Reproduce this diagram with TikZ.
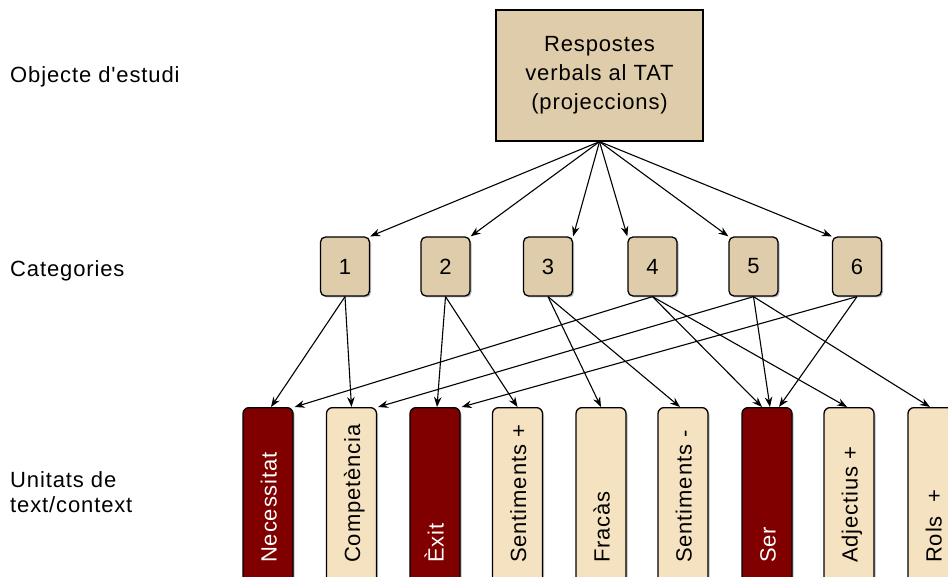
\documentclass[tikz,border=0pt]{standalone}
\usepackage{fontspec}
\setmainfont{Liberation Sans}[LetterSpace=4, Ligatures=TeXOff]
\usetikzlibrary{arrows.meta,shadows}
\definecolor{boxtan}{HTML}{DECCAA}
\definecolor{boxcream}{HTML}{F5E2C1}
\definecolor{boxred}{HTML}{800000}
\begin{document}
\begin{tikzpicture}[x=1pt,y=-1pt,
  font=\fontsize{22}{29}\selectfont,
  topbox/.style={draw, line width=1.3pt, fill=boxtan, minimum width=207pt, minimum height=131pt, align=center, inner sep=0pt},
  shad/.style={drop shadow={shadow xshift=1.5pt, shadow yshift=-1.5pt, fill=black!45, opacity=0.6}},
  catbox/.style={draw, line width=1.3pt, fill=boxtan, rounded corners=5pt, minimum width=49pt, minimum height=59pt, inner sep=0pt, shad},
  unitbox/.style={draw, line width=1.3pt, rounded corners=6pt, minimum width=50pt, minimum height=200pt, inner sep=0pt, anchor=north, shad},
  lightbox/.style={unitbox, fill=boxcream},
  darkbox/.style={unitbox, fill=boxred},
  utext/.style={rotate=90, anchor=base west, inner sep=0pt},
  ltext/.style={anchor=base west, inner sep=0pt},
  arr/.style={-{Stealth[length=10pt,width=7.5pt]}, line width=1.1pt}
]
\useasboundingbox (0,0) rectangle (948,577);
\clip (0,0) rectangle (948,577);

% left labels
\node[ltext] (lobj) at (10,83) {Objecte d'estudi};
\node[ltext] (lcat) at (10,277) {Categories};
\node[ltext] (lun1) at (10,487) {Unitats de};
\node[ltext] (lun2) at (10,512) {text/context};

% top
\node[topbox] (top) at (599.5,75.5) {Respostes\\verbals al TAT\\(projeccions)};

% categories
\node[catbox] (c1) at (345,266.5) {1};
\node[catbox] (c2) at (445.5,266.5) {2};
\node[catbox] (c3) at (548,266.5) {3};
\node[catbox] (c4) at (652.5,266.5) {4};
\node[catbox] (c5) at (753.5,266.5) {5};
\node[catbox] (c6) at (857,266.5) {6};

% units
\node[darkbox]  (u1) at (268,407) {};
\node[lightbox] (u2) at (351.5,407) {};
\node[darkbox]  (u3) at (435,407) {};
\node[lightbox] (u4) at (517.5,407) {};
\node[lightbox] (u5) at (601,407) {};
\node[lightbox] (u6) at (683,407) {};
\node[darkbox]  (u7) at (767,407) {};
\node[lightbox] (u8) at (849,407) {};
\node[lightbox] (u9) at (933,407) {};

\node[utext, text=white] (t1) at (276.5,563) {Necessitat};
\node[utext] (t2) at (360,563) {Competència};
\node[utext, text=white] (t3) at (443.5,563) {Èxit};
\node[utext] (t4) at (526,563) {Sentiments +};
\node[utext] (t5) at (609.5,563) {Fracàs};
\node[utext] (t6) at (691.5,563) {Sentiments -};
\node[utext, text=white] (t7) at (775.5,563) {Ser};
\node[utext] (t8) at (857.5,563) {Adjectius +};
\node[utext] (t9) at (941.5,563) {Rols \ +};

% top to categories
\draw[arr] (top.south) -- (c1.north east);
\draw[arr] (top.south) -- (c2.north east);
\draw[arr] (top.south) -- (c3.north east);
\draw[arr] (top.south) -- (c4.north west);
\draw[arr] (top.south) -- (c5.north west);
\draw[arr] (top.south) -- (c6.north west);

% categories to units
\draw[arr] (c1.south) -- ([xshift=3pt]u1.north);
\draw[arr] (c1.south) -- (u2.north);
\draw[arr] (c2.south) -- ([xshift=2pt]u3.north);
\draw[arr] (c2.south) -- (u4.north);
\draw[arr] (c3.south) -- (u5.north);
\draw[arr] (c3.south) -- ([xshift=-3pt]u6.north);
\draw[arr] (c4.south) -- ([xshift=1pt]u1.north east);
\draw[arr] (c4.south) -- ([xshift=-5pt]u7.north);
\draw[arr] (c4.south) -- ([xshift=-2pt]u8.north);
\draw[arr] (c5.south) -- ([xshift=1pt]u2.north east);
\draw[arr] (c5.south) -- ([xshift=3pt]u7.north);
\draw[arr] (c5.south) -- ([xshift=-3pt]u9.north);
\draw[arr] (c6.south) -- ([xshift=1pt]u3.north east);
\draw[arr] (c6.south) -- ([xshift=12pt]u7.north);
\end{tikzpicture}
\end{document}
